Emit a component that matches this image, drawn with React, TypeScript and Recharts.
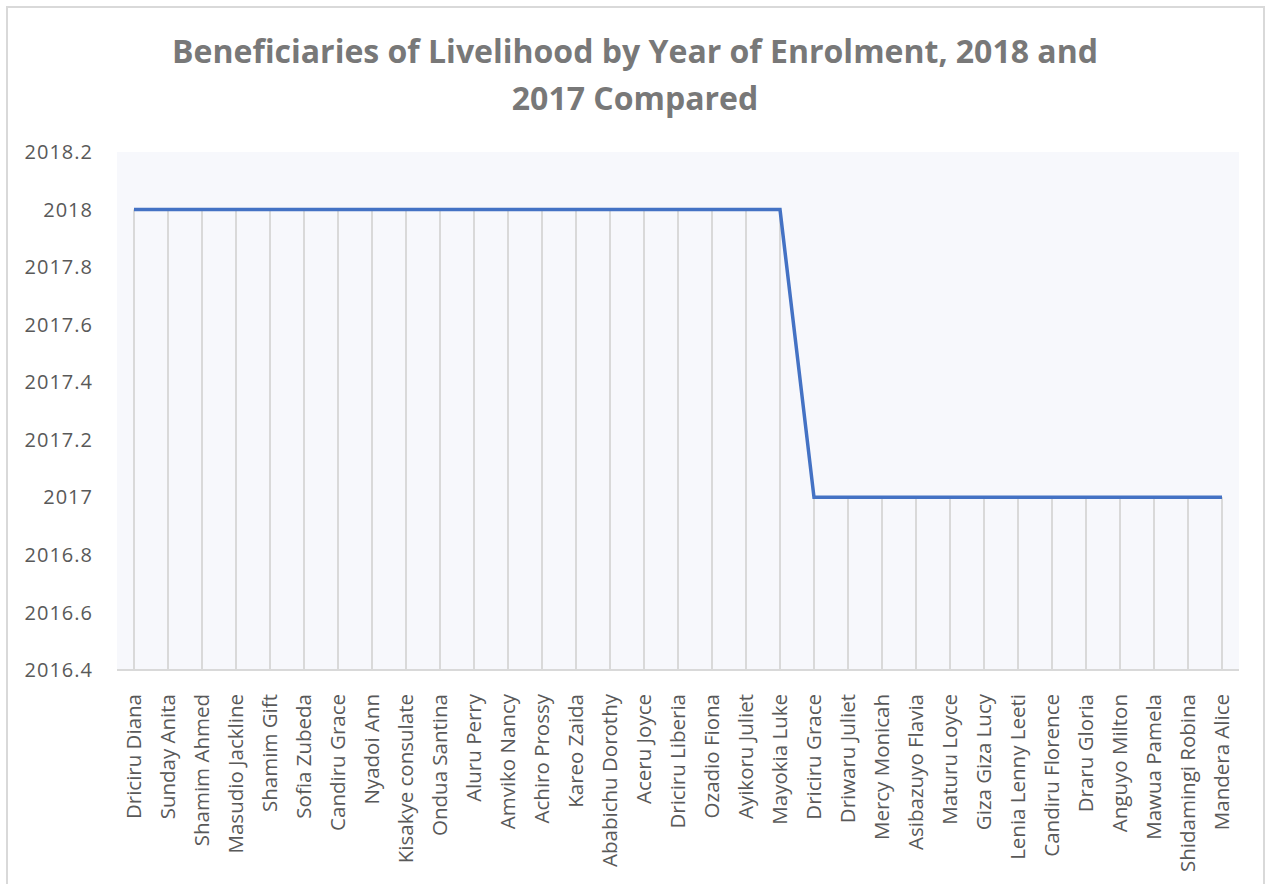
import React from "react";
import {
  ComposedChart,
  Bar,
  Line,
  XAxis,
  YAxis,
  CartesianGrid,
} from "recharts";

// beneficiaries in the order they appear on the category axis
const names = [
  "Driciru Diana",
  "Sunday Anita",
  "Shamim Ahmed",
  "Masudio Jackline",
  "Shamim Gift",
  "Sofia Zubeda",
  "Candiru Grace",
  "Nyadoi Ann",
  "Kisakye consulate",
  "Ondua Santina",
  "Aluru Perry",
  "Amviko Nancy",
  "Achiro Prossy",
  "Kareo Zaida",
  "Ababichu Dorothy",
  "Aceru Joyce",
  "Driciru Liberia",
  "Ozadio Fiona",
  "Ayikoru Juliet",
  "Mayokia Luke",
  "Driciru Grace",
  "Driwaru Juliet",
  "Mercy Monicah",
  "Asibazuyo Flavia",
  "Maturu Loyce",
  "Giza Giza Lucy",
  "Lenia Lenny Leeti",
  "Candiru Florence",
  "Draru Gloria",
  "Anguyo Milton",
  "Mawua Pamela",
  "Shidamingi Robina",
  "Mandera Alice",
];

// year of enrolment per beneficiary
const years = [
  2018, 2018, 2018, 2018, 2018, 2018, 2018, 2018, 2018, 2018,
  2018, 2018, 2018, 2018, 2018, 2018, 2018, 2018, 2018, 2018,
  2017, 2017, 2017, 2017, 2017, 2017, 2017, 2017, 2017, 2017,
  2017, 2017, 2017,
];

const yTicks = [2016.4, 2016.6, 2016.8, 2017, 2017.2, 2017.4, 2017.6, 2017.8, 2018, 2018.2];

const data = names.map((name, i) => ({ name, year: years[i] }));

const labelFont = "'Open Sans', 'Noto Sans', sans-serif";

// rotated category label, reads bottom-to-top
const NameTick = (props: any) => {
  const { x, y, payload } = props;
  return (
    <text
      x={x}
      y={y + 16}
      transform={`rotate(-90, ${x}, ${y + 16})`}
      textAnchor="end"
      dy="0.36em"
      fill="#595959"
      fontSize={20.5}
      fontFamily={labelFont}
    >
      {payload.value}
    </text>
  );
};

export default function App() {
  return (
    <div
      style={{
        position: "absolute",
        left: 0,
        top: 0,
        width: 1268,
        height: 884,
        background: "#fff",
        overflow: "hidden",
      }}
    >
      {/* chart frame */}
      <div
        style={{
          position: "absolute",
          left: 6,
          top: 6,
          width: 1259,
          height: 900,
          border: "2px solid #d9d9d9",
          boxSizing: "border-box",
        }}
      />
      <div
        style={{
          position: "absolute",
          left: 0,
          top: 27,
          width: 1270,
          textAlign: "center",
          fontFamily: labelFont,
          fontWeight: 700,
          fontSize: 32,
          lineHeight: "47px",
          color: "#787878",
        }}
      >
        Beneficiaries of Livelihood by Year of Enrolment, 2018 and
        <br />
        2017 Compared
      </div>
      <div style={{ position: "absolute", left: 0, top: 0 }}>
        <ComposedChart
          width={1268}
          height={884}
          data={data}
          margin={{ top: 152, right: 29, left: 0, bottom: 14 }}
          barCategoryGap={0}
        >
          <CartesianGrid horizontal={false} vertical={false} fill="#f7f8fc" stroke="none" />
          <XAxis
            dataKey="name"
            interval={0}
            height={200}
            tickLine={false}
            axisLine={{ stroke: "#d9d9d9", strokeWidth: 2 }}
            tick={<NameTick />}
          />
          <YAxis
            width={117}
            domain={[2016.4, 2018.2]}
            ticks={yTicks}
            interval={0}
            axisLine={false}
            tickLine={false}
            tickSize={0}
            tickMargin={24}
            tickFormatter={(v: number) => String(+v.toFixed(1))}
            tick={{ fill: "#595959", fontSize: 20, fontFamily: labelFont, letterSpacing: 1 }}
          />
          {/* drop lines from each point down to the axis */}
          <Bar dataKey="year" barSize={2} fill="#d9d9d9" isAnimationActive={false} />
          <Line
            type="linear"
            dataKey="year"
            stroke="#4472c4"
            strokeWidth={3.5}
            dot={false}
            activeDot={false}
            isAnimationActive={false}
          />
        </ComposedChart>
      </div>
    </div>
  );
}
